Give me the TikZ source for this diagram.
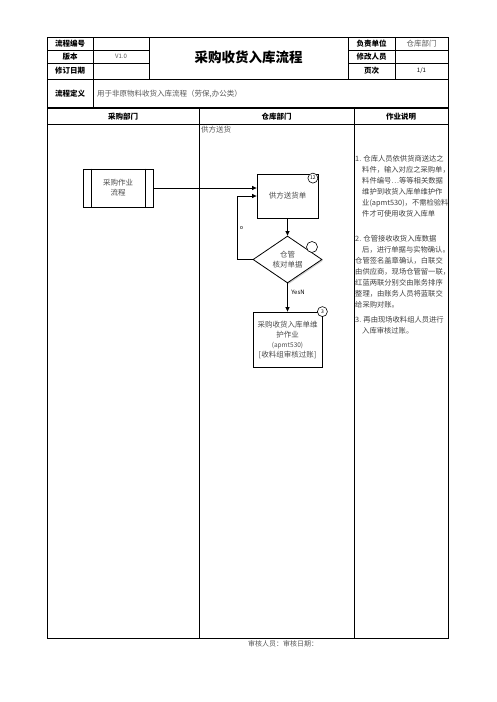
\documentclass[tikz,border=0pt]{standalone}
\usepackage{fontspec}
\setmainfont{Noto Sans CJK SC}
\usetikzlibrary{shapes.geometric,arrows.meta,shadows}
\begin{document}
\begin{tikzpicture}[x=1pt,y=-1pt,
  thinln/.style={line width=0.6pt},
  outerln/.style={line width=1pt},
  hdr/.style={font=\bfseries\fontsize{7.5}{9}\selectfont, inner sep=0},
  gtxt/.style={text=black!65, font=\fontsize{7.5}{9}\selectfont, inner sep=0},
  desc/.style={text=black!75, font=\fontsize{7.3}{11}\selectfont, inner sep=0, align=left, anchor=north west},
  flowbox/.style={draw, line width=0.8pt, fill=white, drop shadow={shadow xshift=1.2pt,shadow yshift=-1.2pt,fill=black!35}, inner sep=0, align=center, font=\fontsize{7.5}{10}\selectfont, text=black!70},
  arr/.style={-{Triangle[length=4.5pt,width=4pt]}, line width=0.7pt},
  numc/.style={circle, draw, line width=0.6pt, inner sep=0, minimum size=10pt, font=\fontsize{5}{5}\selectfont, fill=white}]
\fill[white] (0,0) rectangle (496,702);
\useasboundingbox (0,0) rectangle (496,702);

% table grid
\draw[thinln] (47,50) -- (149,50);
\draw[thinln] (47,63) -- (149,63);
\draw[thinln] (348,50) -- (448,50);
\draw[thinln] (348,63) -- (448,63);
\draw[thinln] (47,79) -- (448,79);
\draw[thinln] (47,124) -- (448,124);
\draw[thinln] (93,37) -- (93,108);
\draw[thinln] (149,37) -- (149,79);
\draw[thinln] (348,37) -- (348,79);
\draw[thinln] (395,37) -- (395,79);
\draw[thinln] (199,108) -- (199,638);
\draw[thinln] (354,108) -- (354,638);
\draw[line width=1.6pt] (47,108) -- (448,108);
\draw[outerln] (47,37) rectangle (448,638);

% header texts
\node[hdr] (l1) at (70,43.5) {流程编号};
\node[hdr] (l2) at (70,56.5) {版本};
\node[hdr] (l3) at (70,71) {修订日期};
\node[gtxt, font=\fontsize{6}{7}\selectfont] (ver) at (121,56.5) {V1.0};
\node[font=\bfseries\fontsize{13.5}{15}\selectfont, inner sep=0] (title) at (248.5,57.5) {采购收货入库流程};
\node[hdr] (r1) at (371.5,43.5) {负责单位};
\node[hdr] (r2) at (371.5,56.5) {修改人员};
\node[hdr] (r3) at (371.5,71) {页次};
\node[gtxt] (dept) at (421.5,43.5) {仓库部门};
\node[gtxt, text=black, font=\fontsize{6}{7}\selectfont] (page) at (421.5,71) {1/1};
\node[hdr] (defl) at (70,93.5) {流程定义};
\node[gtxt, anchor=west] (deft) at (97,93.5) {用于非原物料收货入库流程（劳保,办公类）};

% lane headers
\node[hdr] (lane1) at (123,116.5) {采购部门};
\node[hdr] (lane2) at (276.5,116.5) {仓库部门};
\node[hdr] (lane3) at (401,116.5) {作业说明};
\node[gtxt, anchor=west] (supply) at (201,130) {供方送货};

% flow nodes
\node[flowbox, minimum width=70pt, minimum height=38pt] (proc) at (118,188) {采购作业\\流程};
\draw[line width=0.8pt] ([xshift=9pt]proc.north west) -- ([xshift=9pt]proc.south west);
\draw[line width=0.8pt] ([xshift=-8pt]proc.north east) -- ([xshift=-8pt]proc.south east);

\node[flowbox, minimum width=61pt, minimum height=44pt] (bill) at (287.5,196) {供方送货单};
\node[numc] (n12) at (bill.north east) [xshift=-5.5pt, yshift=-4.5pt] {12};

\node[flowbox, diamond, minimum width=69pt, minimum height=45pt] (chk) at (287.5,259.5) {仓管\\核对单据};
\node[numc, minimum size=11pt] (nc) at (312,247) {};

\node[flowbox, minimum width=69pt, minimum height=55pt, font=\fontsize{7.5}{10}\selectfont] (entry) at (287.5,339.5) {采购收货入库单维\\护作业\\{\fontsize{6.5}{10}\selectfont (apmt530)}\\\relax[收料组审核过账]};
\node[numc] (n3) at (entry.north east) {3};

% connectors
\draw[arr] (proc.east) -- (proc.east -| bill.west);
\draw[arr] (bill.south) -- (chk.north);
\draw[arr] (chk.west) -- ++(-15,0) coordinate (lp) |- (bill.west);
\draw[arr] (chk.south) -- (entry.north);
\node[font=\fontsize{5.5}{6}\selectfont, inner sep=0] (olab) at (241.5,228) {o};
\node[font=\fontsize{6}{7}\selectfont, inner sep=0] (ylab) at (298,292) {YesN};

% description
\node[desc] (d1) at (355,155) {1. 仓库人员依供货商送达之\\
\hspace*{7pt}料件，输入对应之采购单，\\
\hspace*{7pt}料件编号…等等相关数据\\
\hspace*{7pt}维护到收货入库单维护作\\
\hspace*{7pt}业(apmt530)，不需检验料\\
\hspace*{7pt}件才可使用收货入库单};
\node[desc] (d2) at (355,235) {2. 仓管接收收货入库数据\\
\hspace*{7pt}后，进行单据与实物确认。\\
仓管签名盖章确认，白联交\\
由供应商，现场仓管留一联，\\
红蓝两联分别交由账务排序\\
整理，由账务人员将蓝联交\\
给采购对账。};
\node[desc] (d3) at (355,316) {3. 再由现场收料组人员进行\\
\hspace*{7pt}入库审核过账。};

% footer
\node[gtxt, font=\fontsize{7}{8}\selectfont] (foot) at (283,644) {审核人员：审核日期：};
\end{tikzpicture}
\end{document}
